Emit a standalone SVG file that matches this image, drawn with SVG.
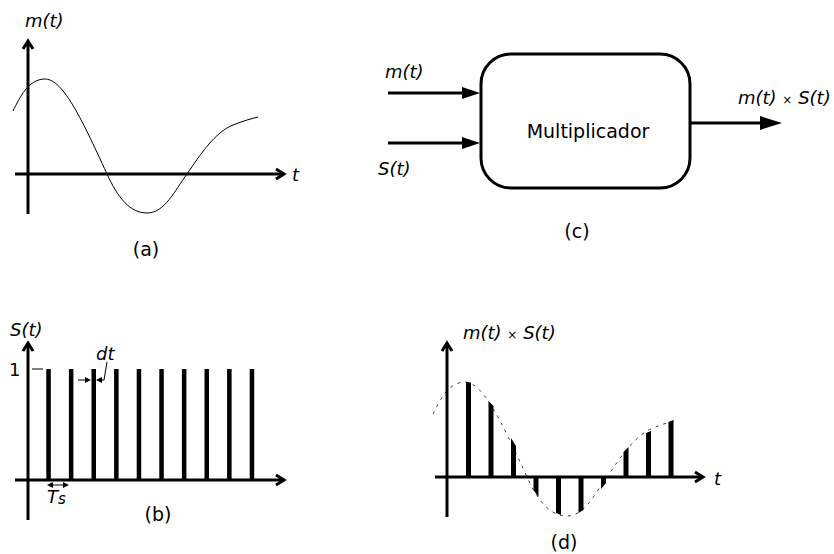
<svg xmlns="http://www.w3.org/2000/svg" width="834" height="554" viewBox="0 0 834 554">
<defs>
<style>
.axis{stroke:#000;stroke-width:3;fill:none}
.chev{stroke:#000;stroke-width:3;fill:none;stroke-linejoin:miter}
.lbl{font-family:"DejaVu Sans","Liberation Sans",sans-serif;font-style:italic;font-size:18px;fill:#000}
.num{font-family:"DejaVu Sans","Liberation Sans",sans-serif;font-style:normal;font-size:18px;fill:#000}
.cap{font-family:"DejaVu Sans","Liberation Sans",sans-serif;font-size:19px;fill:#000}
.times{font-style:normal;font-size:12px}
.curve{stroke:#000;stroke-width:1;fill:none}
.dash{stroke:#444;stroke-width:1;fill:none;stroke-dasharray:3 5}
.pulse{fill:#000}
.thin{stroke:#000;stroke-width:1;fill:none}
.conn{stroke:#000;stroke-width:3;fill:none}
.head{fill:#000}
</style>
<path id="sig" d="M13,111 C20,97 28,80 44,79 C62,78 80,115 107,174 C118,198 130,213 147,213 C165,213 175,190 187,174 C200,155 215,132 233,125 C243,121 250,119 258,117"/>
</defs>
<rect width="834" height="554" fill="#fff"/>

<g id="panel-a">
<line class="axis" x1="28" y1="41" x2="28" y2="214"/>
<line class="axis" x1="15" y1="174" x2="284" y2="174"/>
<path class="chev" d="M23,49 L28,41 L33,49"/>
<path class="chev" d="M276,169 L284,174 L276,179"/>
<use href="#sig" class="curve"/>
<text class="lbl" x="25" y="27">m(t)</text>
<text class="lbl" x="292" y="181">t</text>
<text class="cap" x="146" y="256" text-anchor="middle">(a)</text>
</g>

<g id="panel-b">
<line class="axis" x1="28" y1="343" x2="28" y2="520"/>
<line class="axis" x1="15" y1="480" x2="284" y2="480"/>
<path class="chev" d="M23,351 L28,343 L33,351"/>
<path class="chev" d="M276,475 L284,480 L276,485"/>
<g class="pulse">
<rect x="46.3" y="369" width="4.5" height="111"/>
<rect x="68.9" y="369" width="4.5" height="111"/>
<rect x="91.5" y="369" width="4.5" height="111"/>
<rect x="114.1" y="369" width="4.5" height="111"/>
<rect x="136.7" y="369" width="4.5" height="111"/>
<rect x="159.3" y="369" width="4.5" height="111"/>
<rect x="181.9" y="369" width="4.5" height="111"/>
<rect x="204.5" y="369" width="4.5" height="111"/>
<rect x="227.1" y="369" width="4.5" height="111"/>
<rect x="249.7" y="369" width="4.5" height="111"/>
</g>
<line class="thin" x1="32" y1="369" x2="43" y2="369"/>
<text class="num" x="9" y="376">1</text>
<text class="lbl" x="10" y="336">S(t)</text>
<text class="lbl" x="96" y="360">dt</text>
<line class="thin" x1="107" y1="362" x2="104" y2="380"/>
<line class="thin" x1="78" y1="380" x2="88" y2="380"/>
<path class="head" d="M91,380 L85,377 L85,383 Z"/>
<line class="thin" x1="99" y1="380" x2="104" y2="380"/>
<path class="head" d="M96,380 L102,377 L102,383 Z"/>
<line class="thin" x1="50" y1="485" x2="66" y2="485"/>
<path class="head" d="M47,485 L53,482 L53,488 Z"/>
<path class="head" d="M69,485 L63,482 L63,488 Z"/>
<text class="lbl" x="47" y="503">T<tspan font-size="15" dy="1">s</tspan></text>
<text class="cap" x="158" y="521" text-anchor="middle">(b)</text>
</g>

<g id="multiplicador">
<rect x="481" y="54" width="209" height="134" rx="30" ry="30" fill="#fff" stroke="#000" stroke-width="3"/>
<text class="cap" x="588" y="138" text-anchor="middle">Multiplicador</text>
</g>

<g id="connectors">
<line class="conn" x1="388" y1="93" x2="466" y2="93"/>
<path class="head" d="M480,93 L462,87 L462,99 Z"/>
<line class="conn" x1="388" y1="143" x2="466" y2="143"/>
<path class="head" d="M480,143 L462,137 L462,149 Z"/>
<line class="conn" x1="690" y1="123" x2="766" y2="123"/>
<path class="head" d="M782,123 L760,116 L760,130 Z"/>
</g>

<g id="labels-c">
<text class="lbl" x="385" y="78">m(t)</text>
<text class="lbl" x="378" y="175">S(t)</text>
<text class="lbl" x="738" y="104">m(t) <tspan class="times">×</tspan> S(t)</text>
<text class="cap" x="577" y="238" text-anchor="middle">(c)</text>
</g>

<g id="panel-d">
<use href="#sig" class="dash" transform="translate(420,303)"/>
<g class="pulse">
<polygon points="466,477 466,382 471,382.5 471,477"/>
<polygon points="488.5,477 488.5,401 493.5,406 493.5,477"/>
<polygon points="511,477 511,438 516,446 516,477"/>
<polygon points="533.5,477 533.5,490 538.5,497 538.5,477"/>
<polygon points="556,477 556,513 561,515 561,477"/>
<polygon points="578.5,477 578.5,513 583.5,510 583.5,477"/>
<polygon points="601,477 601,489 606,483 606,477"/>
<polygon points="623.5,477 623.5,452 628.5,447 628.5,477"/>
<polygon points="646,477 646,433 651,431 651,477"/>
<polygon points="668.5,477 668.5,422 673.5,420 673.5,477"/>
</g>
<line class="axis" x1="447" y1="343" x2="447" y2="517"/>
<line class="axis" x1="435" y1="477" x2="703" y2="477"/>
<path class="chev" d="M442,351 L447,343 L452,351"/>
<path class="chev" d="M695,472 L703,477 L695,482"/>
<text class="lbl" x="463" y="339">m(t) <tspan class="times">×</tspan> S(t)</text>
<text class="lbl" x="714" y="485">t</text>
<text class="cap" x="564" y="549" text-anchor="middle">(d)</text>
</g>
</svg>
